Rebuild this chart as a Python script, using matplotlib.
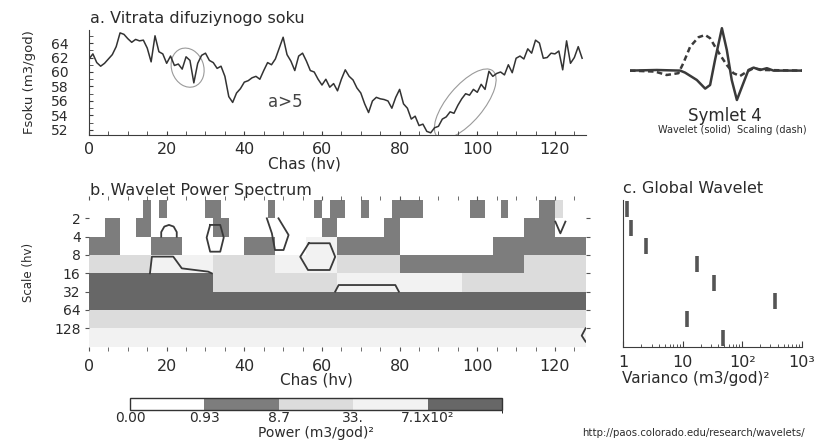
import numpy as np
import matplotlib
matplotlib.use('Agg')
import matplotlib.pyplot as plt
from matplotlib.colors import ListedColormap, BoundaryNorm
from matplotlib.patches import Ellipse
from matplotlib import transforms
from matplotlib.ticker import MultipleLocator, FixedLocator, NullLocator
import matplotlib.cm as cm

plt.rcParams['font.family'] = ['DejaVu Sans']

# ---------------- data ----------------
time = np.arange(128)
flow = [61.8, 62.5, 61.3, 60.8, 61.2, 61.8, 62.4, 63.5, 65.4, 65.2,
        64.6, 64.1, 64.5, 64.3, 64.4, 63.3, 61.4, 65.0, 62.8, 62.5,
        61.2, 62.2, 60.9, 61.1, 60.4, 62.1, 61.6, 58.5, 61.2, 62.3,
        62.6, 61.6, 61.3, 60.5, 60.8, 59.4, 56.6, 55.8, 57.1, 57.7,
        58.6, 58.8, 59.2, 59.4, 59.0, 60.2, 61.3, 61.0, 61.8, 63.3,
        64.8, 62.4, 61.5, 60.2, 62.2, 62.6, 61.5, 60.2, 60.0, 59.0,
        58.2, 59.0, 57.9, 58.4, 57.4, 59.0, 60.3, 59.4, 58.9, 57.8,
        57.1, 55.6, 54.4, 56.0, 56.5, 56.3, 56.2, 56.0, 55.0, 56.5,
        57.6, 55.6, 55.0, 53.5, 53.9, 52.6, 52.8, 51.8, 51.6, 52.3,
        52.5, 53.5, 53.8, 54.5, 54.3, 55.4, 56.3, 57.0, 56.8, 57.6,
        57.2, 58.3, 57.6, 60.1, 59.4, 59.8, 60.0, 59.6, 61.0, 59.9,
        61.9, 62.2, 61.8, 63.2, 62.6, 64.4, 64.0, 61.9, 62.0, 62.6,
        62.5, 62.9, 60.3, 64.3, 61.2, 62.0, 63.5, 61.9]

flow_ticks = [52, 54, 56, 58, 60, 62, 64]

# wavelet power per scale level (one value per coefficient)
power_s1 = [.3, .3, .3, .3, .3, .3, .3, 3, .3, 3, .3, .3, .3, .3, .3, 3,
            3, .3, .3, .3, .3, .3, .3, 3, .3, .3, .3, .3, .3, 3, .3, 3,
            3, .3, .3, 3, .3, .3, .3, 3, 3, 3, 3, .3, .3, .3, .3, .3,
            .3, 3, 3, .3, .3, 3, .3, .3, .3, .3, 3, 3, 15, .3, .3, .3]
power_s2 = [.3, 3, .3, 3, .3, .3, .3, .3, 3, .3, .3, .3, .3, .3, .3, 3,
            .3, .3, .3, 3, .3, .3, .3, .3, .3, .3, .3, .3, 3, 3, .3, .3]
power_s4 = [3, .3, 3, .3, .3, 3, .3, 50, 3, 3, .3, .3, .3, 3, 3, 3]
power_s8 = [15, 50, 15, 50, 15, 3, 3, 15]
power_s16 = [1000, 15, 50, 15]
power_s32 = [1000, 1000]
power_s64 = [15]
power_s128 = [50]
power_rows = [power_s1, power_s2, power_s4, power_s8,
              power_s16, power_s32, power_s64, power_s128]

scale_ticks = [2, 4, 8, 16, 32, 64, 128]
scale_labels = ['2', '4', '8', '16', '32', '64', '128']

power_levels = [0, 0.93, 8.7, 33, 710, 5000]
power_labels = ['0.00', '0.93', '8.7', '33.', '7.1x10²']
power_colors = ['#ffffff', '#7d7d7d', '#dcdcdc', '#f2f2f2', '#676767']

# global wavelet variance per scale level
global_scale = [1, 2, 4, 8, 16, 32, 64, 128]
global_var = [1.14, 1.35, 2.38, 17.2, 33.7, 358, 11.7, 47.1]

# contour outlines (time, log2 scale)
contours = [
    ([18.6, 18.6, 19.4, 20.6, 21.8, 22.6, 22.6], [2.0, 1.75, 1.45, 1.36, 1.45, 1.75, 2.0]),
    ([31.2, 33.8, 34.7, 33.8, 31.2, 30.3, 31.2], [1.36, 1.36, 2.05, 2.82, 2.82, 2.05, 1.36]),
    ([45.8, 47.1, 47.9, 50.1, 51.4, 48.8], [1.0, 1.82, 2.73, 2.73, 1.91, 1.0]),
    ([56.6, 62.0, 63.4, 62.0, 56.4, 54.4, 56.6], [2.36, 2.36, 3.1, 3.82, 3.82, 3.1, 2.36]),
    ([15.7, 16.2, 21.7, 23.9, 30.7, 31.6], [4.0, 3.09, 3.09, 3.73, 3.91, 4.0]),
    ([63.4, 64.3, 78.9, 79.8], [5.0, 4.64, 4.64, 5.0]),
    ([120.1, 121.4, 122.7], [1.18, 1.82, 1.18]),
    ([127.9, 126.9, 127.9], [7.0, 7.4, 7.73]),
]

# Symlet 4 shapes
sym_u_w = [0, 1.09, 2.04, 2.24, 2.72, 3.06, 3.26, 3.46, 3.74, 3.94, 4.14,
           4.35, 4.55, 4.82, 5.03, 5.30, 5.57, 5.84, 7.0]
sym_v_w = [0, 0.03, 0, -0.1, -0.47, -0.9, -0.72, 0.53, 2.12, 1.03, -0.47,
           -1.47, -0.83, 0.03, 0.15, 0.03, 0.12, 0, 0]
sym_u_s = [0, 1.02, 1.49, 1.97, 2.17, 2.45, 2.79, 3.06, 3.26, 3.46, 3.67,
           3.94, 4.21, 4.48, 4.76, 5.03, 5.43, 7.0]
sym_v_s = [0, -0.05, -0.22, -0.13, 0.37, 1.2, 1.67, 1.78, 1.62, 1.2, 0.78,
           0.28, -0.13, -0.27, -0.05, 0.12, 0.03, 0]

# ---------------- figure ----------------
W, H = 837, 440
fig = plt.figure(figsize=(W / 100, H / 100), dpi=100)


def box(x0, y0, x1, y1):
    return [x0 / W, 1 - y1 / H, (x1 - x0) / W, (y1 - y0) / H]


TXT = '#2b2b2b'
AX = '#3c3c3c'

# ---- panel a ----
ax_a = fig.add_axes(box(89, 30, 586, 135))
ax_a.plot(time, flow, color='#333333', lw=1.1)
ax_a.set_xlim(0, 128)
ax_a.set_ylim(51.3, 65.8)
for s in ['top', 'right']:
    ax_a.spines[s].set_visible(False)
for s in ['left', 'bottom']:
    ax_a.spines[s].set_color(AX)
    ax_a.spines[s].set_linewidth(0.8)
ax_a.xaxis.set_major_locator(MultipleLocator(20))
ax_a.xaxis.set_minor_locator(MultipleLocator(5))
ax_a.yaxis.set_major_locator(FixedLocator(flow_ticks))
ax_a.yaxis.set_minor_locator(MultipleLocator(1))
ax_a.tick_params(which='both', direction='in', length=3, color=AX, labelcolor=TXT)
ax_a.tick_params(axis='x', labelsize=11.5, pad=5)
ax_a.tick_params(axis='y', labelsize=10, pad=15)

ax_a.text(50.5, 55.8, 'a>5', fontsize=12, color='#444444', ha='center', va='center')
e1 = Ellipse((0, 0), 0.32, 0.40, angle=20, fill=False, ec='#9a9a9a', lw=0.8,
             transform=fig.dpi_scale_trans + transforms.ScaledTranslation(25.4, 60.6, ax_a.transData))
e2 = Ellipse((0, 0), 0.86, 0.36, angle=50, fill=False, ec='#9a9a9a', lw=0.8,
             transform=fig.dpi_scale_trans + transforms.ScaledTranslation(96.9, 55.6, ax_a.transData))
ax_a.add_patch(e1)
ax_a.add_patch(e2)

# ---- panel b ----
cmap = ListedColormap(power_colors)
norm = BoundaryNorm(power_levels, cmap.N)
ax_b = fig.add_axes(box(89, 200, 586, 346.6))
for k, vals in enumerate(power_rows):
    xe = np.linspace(0, 128, len(vals) + 1)
    ye = [2.0 ** k, 2.0 ** (k + 1)]
    ax_b.pcolormesh(xe, ye, np.array([vals]), cmap=cmap, norm=norm)
for ct, cl in contours:
    ax_b.plot(ct, 2.0 ** np.array(cl), color='#3a3a3a', lw=1.3)
ax_b.set_yscale('log', base=2)
ax_b.set_xlim(0, 128)
ax_b.set_ylim(256, 1)
ax_b.set_yticks(scale_ticks)
ax_b.set_yticklabels(scale_labels)
ax_b.yaxis.set_minor_locator(NullLocator())
ax_b.xaxis.set_major_locator(MultipleLocator(20))
ax_b.xaxis.set_minor_locator(MultipleLocator(5))
for s in ax_b.spines.values():
    s.set_visible(False)
ax_b.tick_params(which='both', direction='out', length=3, color='#555555',
                 top=True, right=True, labelcolor=TXT)
ax_b.tick_params(axis='x', labelsize=11.5, pad=6)
ax_b.tick_params(axis='y', labelsize=10, pad=3)

# ---- panel c ----
ax_c = fig.add_axes(box(623.3, 200, 801.5, 346.6))
for sc, v in zip(global_scale, global_var):
    ax_c.vlines(v, sc * 2 ** 0.08, sc * 2 ** 0.95, color='#555555', lw=2.6)
ax_c.set_xscale('log')
ax_c.set_xlim(1, 1000)
ax_c.set_yscale('log', base=2)
ax_c.set_ylim(256, 1)
ax_c.set_yticks(scale_ticks)
ax_c.set_yticklabels([])
ax_c.yaxis.set_minor_locator(NullLocator())
ax_c.set_xticks([1, 10, 100, 1000])
ax_c.set_xticklabels(['1', '10', '10²', '10³'])
for s in ['top', 'right']:
    ax_c.spines[s].set_visible(False)
for s in ['left', 'bottom']:
    ax_c.spines[s].set_color(AX)
    ax_c.spines[s].set_linewidth(0.8)
ax_c.tick_params(which='both', direction='in', color=AX, labelcolor=TXT)
ax_c.tick_params(axis='x', which='major', length=4, labelsize=11.5, pad=6)
ax_c.tick_params(axis='x', which='minor', length=2)
ax_c.tick_params(axis='y', length=0)

# ---- symlet inset ----
ax_s = fig.add_axes(box(630, 20, 802, 110))
ax_s.plot(sym_u_w, sym_v_w, color='#3a3a3a', lw=1.8)
ax_s.plot(sym_u_s, sym_v_s, color='#3a3a3a', lw=1.8, ls=(0, (2.2, 1.4)))
ax_s.set_xlim(0, 7)
ax_s.set_ylim(-1.97, 2.53)
ax_s.axis('off')

# ---- colorbar ----
ax_cb = fig.add_axes(box(130, 398, 502, 410))
sm = cm.ScalarMappable(norm=norm, cmap=cmap)
cb = fig.colorbar(sm, cax=ax_cb, orientation='horizontal',
                  boundaries=power_levels, spacing='uniform', ticks=power_levels[:-1])
cb.set_ticklabels(power_labels)
cb.ax.tick_params(length=0, labelsize=10, pad=1, labelcolor=TXT)
cb.outline.set_linewidth(1.0)
cb.outline.set_edgecolor('#333333')

# ---- texts ----
def ftext(x, y, s, **kw):
    kw.setdefault('color', TXT)
    fig.text(x / W, 1 - y / H, s, **kw)


ftext(90, 23.5, 'a. Vitrata difuziynogo soku', fontsize=11.5, va='baseline', ha='left')
ftext(90, 194.5, 'b. Wavelet Power Spectrum', fontsize=11.5, va='baseline', ha='left')
ftext(623, 193, 'c. Global Wavelet', fontsize=11.5, va='baseline', ha='left')
ftext(725, 121, 'Symlet 4', fontsize=12, va='baseline', ha='center')
ftext(732, 133, 'Wavelet (solid)  Scaling (dash)', fontsize=7, va='baseline', ha='center')
ftext(304, 164, 'Chas (hv)', fontsize=11, va='center', ha='center')
ftext(316, 380, 'Chas (hv)', fontsize=11, va='center', ha='center')
ftext(696, 378, 'Varianco (m3/god)²', fontsize=11, va='center', ha='center')
ftext(316, 433, 'Power (m3/god)²', fontsize=10, va='center', ha='center')
ftext(30, 82, 'Fsoku (m3/god)', fontsize=9.5, va='center', ha='center', rotation=90)
ftext(29, 272, 'Scale (hv)', fontsize=8.5, va='center', ha='center', rotation=90)
ftext(582, 433, 'http://paos.colorado.edu/research/wavelets/', fontsize=7.3,
      va='center', ha='left')

fig.savefig('out.png', dpi=100, facecolor='white')
